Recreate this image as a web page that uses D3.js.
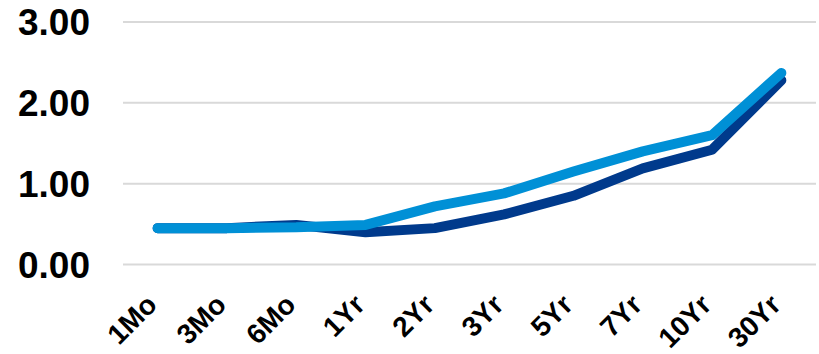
<!DOCTYPE html>
<html>
<head>
<meta charset="utf-8">
<script src="https://cdn.jsdelivr.net/npm/d3@7"></script>
<style>
  body { margin: 0; background: #fff; }
  text { font-family: "Liberation Sans", Arial, sans-serif; font-weight: bold; fill: #000; }
</style>
</head>
<body>
<svg width="819" height="354"></svg>
<script>
// Maturities on the x axis
const maturities = ["1Mo", "3Mo", "6Mo", "1Yr", "2Yr", "3Yr", "5Yr", "7Yr", "10Yr", "30Yr"];

// Two yield curves (percent)
const curveDark = [0.45, 0.45, 0.49, 0.40, 0.45, 0.62, 0.85, 1.19, 1.42, 2.28];
const curveLight = [0.45, 0.45, 0.46, 0.49, 0.72, 0.88, 1.15, 1.40, 1.60, 2.37];

const yTicks = [0, 1, 2, 3];

const margin = {top: 22, right: 3, bottom: 89.5, left: 123},
    width = 819 - margin.left - margin.right,
    height = 354 - margin.top - margin.bottom;

const svg = d3.select("svg")
    .append("g")
    .attr("transform", `translate(${margin.left},${margin.top})`);

const x = d3.scalePoint()
    .domain(maturities)
    .range([0, width])
    .padding(0.5);

const y = d3.scaleLinear()
    .domain([0, 3])
    .range([height, 0]);

// gridlines
svg.selectAll("line.grid")
    .data(yTicks)
    .join("line")
    .attr("class", "grid")
    .attr("x1", 0)
    .attr("x2", width)
    .attr("y1", d => y(d))
    .attr("y2", d => y(d))
    .attr("stroke", "#d9d9d9")
    .attr("stroke-width", 2);

// y labels
svg.selectAll("text.ylab")
    .data(yTicks)
    .join("text")
    .attr("class", "ylab")
    .attr("x", -33)
    .attr("y", d => y(d))
    .attr("dy", "0.36em")
    .attr("text-anchor", "end")
    .style("font-size", "37px")
    .text(d => d3.format(".2f")(d));

// x labels, rotated
svg.selectAll("text.xlab")
    .data(maturities)
    .join("text")
    .attr("class", "xlab")
    .attr("text-anchor", "end")
    .attr("transform", d => `translate(${x(d) + 1},${height + 42}) rotate(-45)`)
    .style("font-size", "28px")
    .text(d => d);

const line = d3.line()
    .x((d, i) => x(maturities[i]))
    .y(d => y(d));

svg.append("path")
    .datum(curveDark)
    .attr("d", line)
    .attr("fill", "none")
    .attr("stroke", "#003a8c")
    .attr("stroke-width", 10)
    .attr("stroke-linecap", "round")
    .attr("stroke-linejoin", "round");

svg.append("path")
    .datum(curveLight)
    .attr("d", line)
    .attr("fill", "none")
    .attr("stroke", "#0090d6")
    .attr("stroke-width", 10)
    .attr("stroke-linecap", "round")
    .attr("stroke-linejoin", "round");
</script>
</body>
</html>
